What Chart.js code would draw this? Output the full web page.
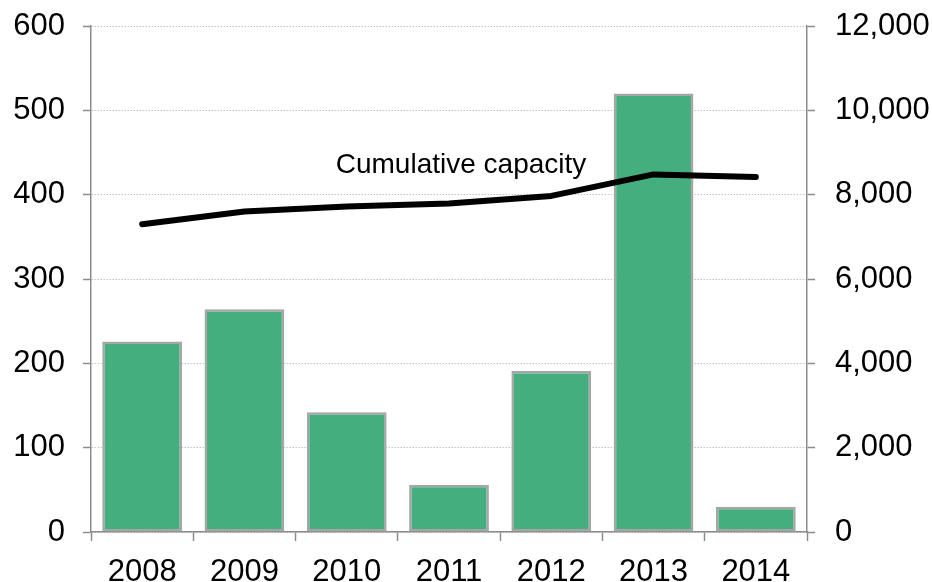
<!DOCTYPE html>
<html>
<head>
<meta charset="utf-8">
<script src="https://cdn.jsdelivr.net/npm/chart.js@4"></script>
<style>
  html, body { margin: 0; padding: 0; background: #ffffff; }
  #wrap { width: 932px; height: 582px; position: relative; }
</style>
</head>
<body>
<div id="wrap"><canvas id="c" width="932" height="582"></canvas></div>
<script>
// Yearly additions (left axis) and cumulative capacity (right axis)
const years = ['2008', '2009', '2010', '2011', '2012', '2013', '2014'];
const annualAdditions = [226, 264, 142, 56, 191, 520, 30];
const cumulativeCapacity = [7300, 7600, 7720, 7790, 7970, 8480, 8420];
const leftTicks = [0, 100, 200, 300, 400, 500, 600];
const rightTicks = [0, 2000, 4000, 6000, 8000, 10000, 12000];
const lineLabel = 'Cumulative capacity';

const FONT = 'Liberation Sans, Arial, Helvetica, sans-serif';
const AXIS_GRAY = '#8c8c8c';

// Caption written just above the cumulative line
const lineCaption = {
  id: 'lineCaption',
  afterDatasetsDraw(chart) {
    const meta = chart.getDatasetMeta(1);
    const pt = meta.data[3];
    const ctx = chart.ctx;
    ctx.save();
    ctx.font = '28px ' + FONT;
    ctx.fillStyle = '#000000';
    ctx.textAlign = 'center';
    ctx.textBaseline = 'alphabetic';
    ctx.fillText(lineLabel, pt.x + 12, pt.y - 31);
    ctx.restore();
  }
};

// Vertical axes: fixed width, no extra label padding above/below the plot
function fixVertical(width) {
  return function (scale) {
    scale.width = width;
    scale.paddingTop = 0;
    scale.paddingBottom = 0;
  };
}

new Chart(document.getElementById('c'), {
  data: {
    labels: years,
    datasets: [
      {
        type: 'bar',
        data: annualAdditions,
        yAxisID: 'yLeft',
        backgroundColor: '#45ae7e',
        borderColor: '#a6a6a6',
        borderWidth: 2.5,
        borderSkipped: false,
        barPercentage: 0.78,
        categoryPercentage: 1.0,
        order: 2
      },
      {
        type: 'line',
        data: cumulativeCapacity,
        yAxisID: 'yRight',
        borderColor: '#000000',
        borderWidth: 6,
        borderCapStyle: 'round',
        borderJoinStyle: 'round',
        pointRadius: 0,
        tension: 0,
        fill: false,
        order: 1
      }
    ]
  },
  options: {
    responsive: false,
    animation: false,
    devicePixelRatio: 1,
    layout: { padding: { top: 26, left: 0, right: 0, bottom: 0 } },
    plugins: {
      legend: { display: false },
      tooltip: { enabled: false }
    },
    scales: {
      x: {
        offset: true,
        grid: {
          offset: true,
          drawOnChartArea: false,
          drawTicks: true,
          tickLength: 9,
          tickColor: AXIS_GRAY,
          tickWidth: 1.5
        },
        border: { color: AXIS_GRAY, width: 1.5 },
        ticks: {
          color: '#000000',
          font: { family: FONT, size: 31 },
          padding: 13,
          maxRotation: 0
        },
        afterFit(scale) {
          scale.height = 50;
          scale.paddingLeft = 0;
          scale.paddingRight = 0;
        }
      },
      yLeft: {
        position: 'left',
        min: 0,
        max: 600,
        afterBuildTicks(scale) { scale.ticks = leftTicks.map(v => ({ value: v })); },
        grid: {
          color: '#c4c4c4',
          lineWidth: 1,
          drawTicks: true,
          tickLength: 8,
          tickColor: AXIS_GRAY,
          tickWidth: 1.5,
          tickBorderDash: []
        },
        border: { color: AXIS_GRAY, width: 1.5, dash: [1.5, 1.5] },
        ticks: {
          color: '#000000',
          font: { family: FONT, size: 31 },
          padding: 18
        },
        afterFit: fixVertical(91)
      },
      yRight: {
        position: 'right',
        min: 0,
        max: 12000,
        afterBuildTicks(scale) { scale.ticks = rightTicks.map(v => ({ value: v })); },
        grid: {
          drawOnChartArea: false,
          drawTicks: true,
          tickLength: 8,
          tickColor: AXIS_GRAY,
          tickWidth: 1.5
        },
        border: { color: AXIS_GRAY, width: 1.5 },
        ticks: {
          color: '#000000',
          font: { family: FONT, size: 31 },
          padding: 20,
          callback: v => v.toLocaleString('en-US')
        },
        afterFit: fixVertical(125)
      }
    }
  },
  plugins: [lineCaption]
});
</script>
</body>
</html>
